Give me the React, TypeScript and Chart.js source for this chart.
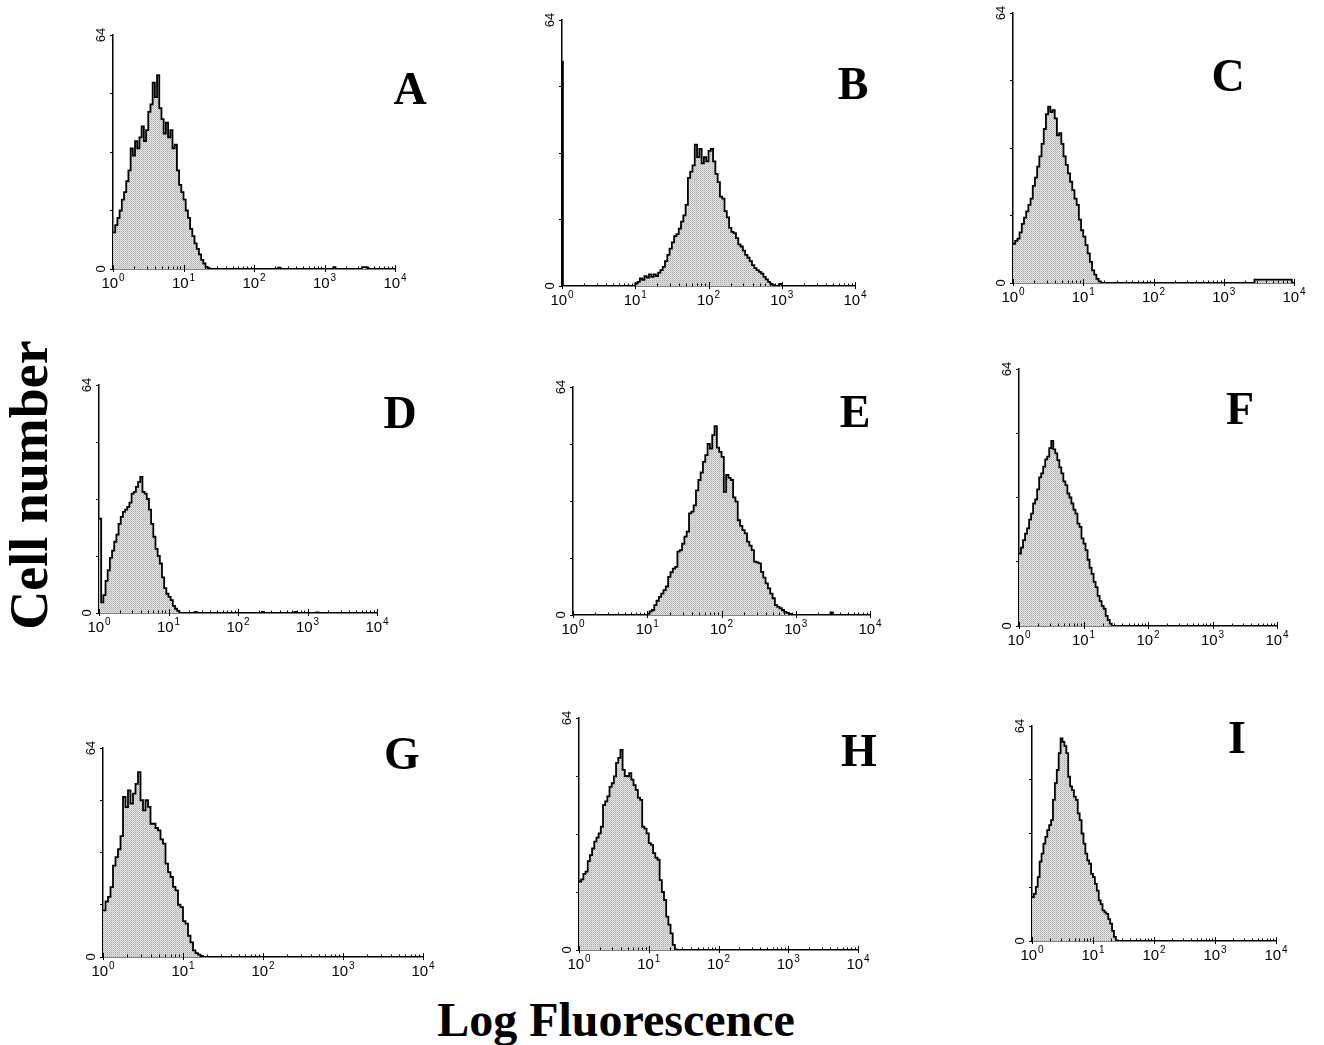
import React, { useEffect, useRef } from "react";
import { Chart, registerables } from "chart.js";

Chart.register(...registerables);

// ---------- data ----------
// x positions are in channels: 64 channels per decade, 0 = 10^0, 256 = 10^4
const X_TICK_BASE = "10";
const X_TICK_EXPONENTS = ["0", "1", "2", "3", "4"];
const X_TICK_VALUES = [0, 64, 128, 192, 256];
const Y_TICK_LABELS = [0, 64];
const Y_MAX = 64;
const Y_STEP = 16;
const CHANNEL_STEP = 2;
const PANEL_LETTERS = ["A", "B", "C", "D", "E", "F", "G", "H", "I"];
const X_TITLE = "Log Fluorescence";
const Y_TITLE = "Cell number";

const A_START = 0;
const A_COUNTS = [10, 12, 14, 16, 19, 21, 24, 27, 33, 31, 35, 33, 36, 39, 35, 38, 43, 45, 51, 47, 53, 44, 41, 37, 40, 36, 38, 33, 34, 27, 23, 21, 19, 16, 14, 11, 9, 7, 5.5, 4, 2.5, 1.5, 0.6, 0.2, 0];
const A_EXTRA: [number, number][] = [[150, 0.4], [152, 0], [200, 0.5], [202, 0], [226, 0.5], [230, 0.4], [232, 0]];

const B_START = 62;
const B_COUNTS = [0, 0.6, 1, 1.8, 1.5, 2.4, 2, 2.8, 2.2, 2.8, 2.4, 3.2, 3.8, 4.6, 6, 7.5, 9, 10.5, 12, 12.5, 13.8, 15.5, 17, 19.5, 26, 27.5, 29, 34, 31, 33, 29.5, 31, 30, 32.5, 33, 30, 27, 25, 21.5, 21, 18, 16.5, 14, 13, 12.7, 11.5, 10, 9.5, 8.5, 7.5, 6.8, 6, 5, 4.3, 3.8, 3.4, 3, 2.2, 1.6, 1, 0.5, 0.2, 0];
const B_EXTRA: [number, number][] = [[0, 54], [0.8, 0], [190, 0.5], [192, 0]];

const C_START = 0;
const C_COUNTS = [9.3, 10, 10.5, 12, 14, 15.5, 17, 18.5, 20, 23, 25, 27.6, 30, 33, 36.5, 40, 41.8, 40.5, 41, 39, 35, 35.5, 33, 30, 28, 26, 24, 22, 20, 18.5, 15, 12.5, 11, 9, 7, 5, 3, 2, 1, 0.4, 0];
const C_EXTRA: [number, number][] = [[220, 0.8], [254, 0]];

const D_START = 0;
const D_COUNTS = [26.5, 3, 5, 9, 12, 15.5, 17.5, 20, 22, 25, 27, 28.4, 29, 29.8, 31, 33.5, 34, 35.4, 36.8, 38.2, 34, 33.5, 32, 29, 25, 21.4, 18, 16, 13.9, 10, 7, 5.4, 4.5, 3.6, 2, 1.2, 0.6, 0];
const D_EXTRA: [number, number][] = [[88, 0.3], [90, 0], [150, 0.3], [152, 0], [180, 0.3], [182, 0], [200, 0.2], [202, 0]];

const E_START = 64;
const E_COUNTS = [0.3, 1, 1.4, 2.8, 4, 5.1, 6, 7, 8, 10.7, 12, 13, 13.5, 17.8, 18.2, 20, 22, 23.4, 28.5, 29, 30.8, 35, 37.9, 40, 43, 44.9, 48, 46.7, 50.5, 53, 47, 45.8, 44.4, 34.6, 39.3, 38.5, 37.9, 33, 31.8, 26.6, 25, 23.8, 22.9, 20.6, 19.5, 18.2, 15, 14.8, 14.5, 12.1, 10.5, 8.9, 7.5, 6, 4.7, 2.8, 2.3, 1.9, 1.4, 0.9, 0.6, 0.3, 0];
const E_EXTRA: [number, number][] = [[222, 0.7], [224, 0]];

const F_START = 0;
const F_COUNTS = [18, 19.5, 21.4, 23, 24.3, 26.5, 28, 30.5, 31.5, 34, 37, 38, 39.7, 41.5, 42.2, 44.3, 46.1, 44, 43, 41.3, 39.5, 38, 36, 35.1, 33, 32, 30.5, 29, 28, 25.5, 24.7, 21.8, 20.5, 18.9, 16.5, 14.5, 13, 11, 9.7, 7.5, 6.2, 5, 4.3, 2.5, 1.5, 0.6, 0];
const F_EXTRA: [number, number][] = [];

const G_START = 0;
const G_COUNTS = [14.3, 17, 18.4, 21.4, 28, 30.6, 33, 37, 49, 45.9, 51, 47, 50, 53, 56.6, 48, 44.9, 48, 46, 40.8, 40.8, 39.5, 38.8, 36, 34.7, 28.6, 26, 24.5, 21.5, 20.4, 16, 15.3, 11, 10.2, 6.5, 4.5, 2, 1.2, 0.7, 0.3, 0];
const G_EXTRA: [number, number][] = [];

const H_START = 0;
const H_COUNTS = [18.9, 19.5, 21, 21.6, 24.5, 26.2, 28, 29.9, 31, 32.2, 34, 40, 41, 42.4, 45, 46, 47.9, 51.6, 53, 55.2, 49.7, 48, 47.9, 48.8, 47, 45.5, 44.2, 42, 41.4, 34, 33.5, 32.2, 29.5, 29, 26.7, 25.5, 24.9, 19.3, 16, 13.8, 9.2, 7, 4.6, 1.4, 0.2, 0];
const H_EXTRA: [number, number][] = [];

const I_START = 0;
const I_COUNTS = [13.1, 14, 16.1, 19, 23.6, 26, 29, 31, 33, 34.5, 36, 42, 47, 50.9, 55.9, 60.3, 59.3, 58, 55.9, 48.9, 46, 44.9, 43, 42, 38, 36, 32, 29, 26, 24, 23, 20, 19, 17, 15, 12.1, 11, 9.1, 8.5, 8.1, 6.5, 5.2, 3, 1.2, 0.2, 0];
const I_EXTRA: [number, number][] = [];

const SERIES = [
  { start: A_START, counts: A_COUNTS, extra: A_EXTRA },
  { start: B_START, counts: B_COUNTS, extra: B_EXTRA },
  { start: C_START, counts: C_COUNTS, extra: C_EXTRA },
  { start: D_START, counts: D_COUNTS, extra: D_EXTRA },
  { start: E_START, counts: E_COUNTS, extra: E_EXTRA },
  { start: F_START, counts: F_COUNTS, extra: F_EXTRA },
  { start: G_START, counts: G_COUNTS, extra: G_EXTRA },
  { start: H_START, counts: H_COUNTS, extra: H_EXTRA },
  { start: I_START, counts: I_COUNTS, extra: I_EXTRA },
];

// ---------- layout (plot area in page pixels, letter centre) ----------
const LAYOUT = [
  { l: 113, r: 395, t: 35, b: 269, lx: 410, ly: 89 },
  { l: 562, r: 855, t: 20, b: 286, lx: 853, ly: 84 },
  { l: 1013, r: 1294, t: 13, b: 283, lx: 1228, ly: 76 },
  { l: 99, r: 377, t: 385, b: 613, lx: 400, ly: 413 },
  { l: 573, r: 870, t: 387, b: 615, lx: 855, ly: 412 },
  { l: 1019, r: 1277, t: 369, b: 626, lx: 1240, ly: 409 },
  { l: 103, r: 423, t: 748, b: 957, lx: 402, ly: 754 },
  { l: 579, r: 858, t: 718, b: 950, lx: 859, ly: 751 },
  { l: 1032, r: 1276, t: 726, b: 941, lx: 1237, ly: 738 },
];

const YW = 30;
const PT = 14;
const PR = 26;
const XH = 30;

function buildPoints(start: number, counts: number[], extra: [number, number][]) {
  const pts = counts.map((c, i) => ({ x: start + i * CHANNEL_STEP, y: c }));
  for (const [x, y] of extra) pts.push({ x, y });
  pts.sort((a, b) => a.x - b.x);
  return pts;
}

function makePattern(): CanvasPattern | string {
  const c = document.createElement("canvas");
  c.width = 2;
  c.height = 2;
  const g = c.getContext("2d");
  if (!g) return "#d0d0d0";
  g.fillStyle = "#e6e6e6";
  g.fillRect(0, 0, 2, 2);
  g.fillStyle = "#a8a8a8";
  g.fillRect(0, 0, 1, 1);
  g.fillStyle = "#c4c4c4";
  g.fillRect(1, 1, 1, 1);
  const p = g.createPattern(c, "repeat");
  return p || "#d0d0d0";
}

const SANS = "'Liberation Sans', Arial, sans-serif";

const axisDecor = {
  id: "axisDecor",
  afterDraw(chart: any) {
    const { ctx, chartArea } = chart;
    const xs = chart.scales.x;
    const ys = chart.scales.y;
    const y0 = ys.getPixelForValue(0);
    ctx.save();
    ctx.strokeStyle = "#000";
    ctx.lineWidth = 1;
    // log minor / major ticks along x axis
    for (let d = 0; d < 4; d++) {
      for (let k = 1; k <= 10; k++) {
        const v = 64 * (d + Math.log10(k));
        const px = Math.round(xs.getPixelForValue(v)) + 0.5;
        const major = k === 1 || k === 10;
        ctx.beginPath();
        ctx.moveTo(px, y0 + (major ? 3 : 0));
        ctx.lineTo(px, y0 - (major ? 4 : 2.5));
        ctx.stroke();
      }
    }
    ctx.fillStyle = "#000";
    // x tick labels: base + raised exponent
    ctx.textBaseline = "alphabetic";
    ctx.textAlign = "left";
    X_TICK_VALUES.forEach((v, i) => {
      const px = xs.getPixelForValue(v);
      ctx.font = `15px ${SANS}`;
      const bw = ctx.measureText(X_TICK_BASE).width;
      ctx.font = `10px ${SANS}`;
      const ew = ctx.measureText(X_TICK_EXPONENTS[i]).width;
      const x0 = px - (bw + ew + 1) / 2;
      ctx.font = `15px ${SANS}`;
      ctx.fillText(X_TICK_BASE, x0, y0 + 19);
      ctx.font = `10px ${SANS}`;
      ctx.fillText(X_TICK_EXPONENTS[i], x0 + bw + 1, y0 + 12);
    });
    // y tick labels, rotated
    ctx.font = `13px ${SANS}`;
    ctx.textAlign = "center";
    ctx.textBaseline = "middle";
    for (const v of Y_TICK_LABELS) {
      const py = ys.getPixelForValue(v);
      ctx.save();
      ctx.translate(chartArea.left - 12, py);
      ctx.rotate(-Math.PI / 2);
      ctx.fillText(String(v), 0, 0);
      ctx.restore();
    }
    ctx.restore();
  },
};

function Panel({ idx }: { idx: number }) {
  const ref = useRef<HTMLCanvasElement | null>(null);
  const s = SERIES[idx];
  const g = LAYOUT[idx];
  const w = g.r - g.l + YW + PR;
  const h = g.b - g.t + PT + XH;
  useEffect(() => {
    if (!ref.current) return;
    const chart = new Chart(ref.current, {
      type: "line",
      data: {
        datasets: [
          {
            data: buildPoints(s.start, s.counts, s.extra),
            borderColor: "#000",
            borderWidth: 1.8,
            backgroundColor: makePattern() as any,
            fill: "origin",
            stepped: true,
            pointRadius: 0,
            tension: 0,
          },
        ],
      },
      options: {
        responsive: false,
        animation: false,
        devicePixelRatio: 1,
        layout: { padding: { left: 0, top: PT, right: PR, bottom: 0 } },
        plugins: { legend: { display: false }, tooltip: { enabled: false } },
        scales: {
          x: {
            type: "linear",
            min: 0,
            max: 256,
            afterFit: (sc: any) => {
              sc.height = XH;
            },
            grid: { display: false },
            border: { display: true, color: "#000", width: 1.5 },
            ticks: { display: false, stepSize: 64 },
          },
          y: {
            type: "linear",
            min: 0,
            max: Y_MAX,
            afterFit: (sc: any) => {
              sc.width = YW;
            },
            ticks: { display: false, stepSize: Y_STEP },
            grid: {
              display: true,
              drawOnChartArea: false,
              drawTicks: true,
              tickLength: 3,
              color: "#000",
              lineWidth: 1,
            },
            border: { display: true, color: "#000", width: 1.5 },
          },
        },
      },
      plugins: [axisDecor],
    });
    return () => chart.destroy();
  }, [idx]);
  return (
    <>
      <canvas
        ref={ref}
        width={w}
        height={h}
        style={{ position: "absolute", left: g.l - YW, top: g.t - PT, width: w, height: h }}
      />
      <div
        style={{
          position: "absolute",
          left: g.lx,
          top: g.ly,
          transform: "translate(-50%, -50%)",
          font: "bold 46px 'Liberation Serif', 'Times New Roman', serif",
          lineHeight: "1",
          color: "#000",
        }}
      >
        {PANEL_LETTERS[idx]}
      </div>
    </>
  );
}

export default function App() {
  return (
    <div
      style={{
        position: "absolute",
        left: 0,
        top: 0,
        width: 1324,
        height: 1045,
        background: "#fff",
      }}
    >
      {SERIES.map((_, i) => (
        <Panel key={i} idx={i} />
      ))}
      <div
        style={{
          position: "absolute",
          left: 33 - 200,
          top: 485 - 35,
          width: 400,
          height: 70,
          lineHeight: "70px",
          textAlign: "center",
          transform: "rotate(-90deg)",
          transformOrigin: "50% 50%",
          font: "bold 54px 'Liberation Serif', 'Times New Roman', serif",
          whiteSpace: "nowrap",
          color: "#000",
        }}
      >
        {Y_TITLE}
      </div>
      <div
        style={{
          position: "absolute",
          left: 616,
          top: 1020,
          transform: "translate(-50%, -50%)",
          font: "bold 48px 'Liberation Serif', 'Times New Roman', serif",
          whiteSpace: "nowrap",
          lineHeight: "1",
          color: "#000",
        }}
      >
        {X_TITLE}
      </div>
    </div>
  );
}
